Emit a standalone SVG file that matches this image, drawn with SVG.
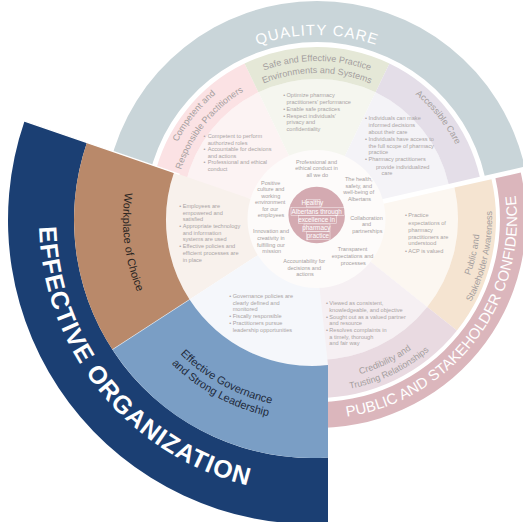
<svg xmlns="http://www.w3.org/2000/svg" xmlns:xlink="http://www.w3.org/1999/xlink" width="523" height="522" viewBox="0 0 523 522">
<style>
  .lbl{font-family:"Liberation Sans",Arial,sans-serif;font-size:9px;fill:#a49e9e}
  .dark{font-family:"Liberation Sans",Arial,sans-serif;font-size:11px;fill:#2a2522}
  .navy{font-family:"Liberation Sans",Arial,sans-serif;font-size:11px;fill:#1f2a3b}
  .blt{font-family:"Liberation Sans",Arial,sans-serif;font-size:5.6px;fill:#aaa4a4}
  .val{font-family:"Liberation Sans",Arial,sans-serif;font-size:5.5px;fill:#a6a0a0;text-anchor:middle}
  .ctr{font-family:"Liberation Sans",Arial,sans-serif;font-size:6.4px;fill:#ffffff;text-anchor:middle}
  .band{font-family:"Liberation Sans",Arial,sans-serif;fill:#ffffff}
</style>
<defs>
  <!-- one seventh of the wheel, centred on the +x axis -->
  <path id="q-in" d="M0,0 L121.63,-58.57 A135,135 0 0 1 121.63,58.57 Z"/>
  <path id="q-lb" d="M121.63,-58.57 L150.46,-72.46 A167,167 0 0 1 150.46,72.46 L121.63,58.57 A135,135 0 0 0 121.63,-58.57 Z"/>
  <path id="p-in" d="M0,0 L127.04,-61.18 A141,141 0 0 1 127.04,61.18 Z"/>
  <path id="p-lb" d="M127.04,-61.18 L161.27,-77.67 A179,179 0 0 1 161.27,77.67 L127.04,61.18 A141,141 0 0 0 127.04,-61.18 Z"/>
  <!-- text baselines, each just long enough for its label -->
  <path id="t-qc" d="M244.19,50.47 A179,179 0 0 1 389.81,50.47"/>
  <path id="t-eo" d="M39.51,203.33 A273,273 0 0 0 271.65,490.0"/>
  <path id="t-psc" d="M319.44,418.99 A200,200 0 0 0 510.45,168.25"/>
  <path id="t-safe1" d="M254.77,74.23 A153,153 0 0 1 379.23,74.23"/>
  <path id="t-safe2" d="M255.19,87.27 A141,141 0 0 1 378.81,87.27"/>
  <path id="t-comp1" d="M173.10,151.22 A157,157 0 0 1 223.80,87.66"/>
  <path id="t-comp2" d="M179.94,173.22 A143,143 0 0 1 246.72,89.46"/>
  <path id="t-acc" d="M406.86,87.71 A155,155 0 0 1 460.13,154.51"/>
  <path id="t-aw1" d="M464.90,287.53 A163,163 0 0 0 479.98,221.45"/>
  <path id="t-aw2" d="M464.0,313.96 A175,175 0 0 0 490.64,197.25"/>
  <path id="t-cr1" d="M349.67,376.65 A161,161 0 0 0 419.86,342.86"/>
  <path id="t-cr2" d="M340.21,390.44 A173,173 0 0 0 436.56,344.04"/>
  <path id="t-work" d="M127.84,177.48 A189,189 0 0 0 143.60,305.80"/>
  <path id="t-gov1" d="M171.20,344.57 A188,188 0 0 0 284.21,405.94"/>
  <path id="t-gov2" d="M161.46,353.19 A201,201 0 0 0 282.29,418.79"/>
</defs>

<rect width="523" height="522" fill="#ffffff"/>

<!-- Quality care: three segments around the top -->
<g id="quality-care">
  <path d="M149.31,175.73 L109.34,166.60 A213,213 0 0 1 524.66,166.60 L484.69,175.73 A172,172 0 0 0 149.31,175.73 Z" fill="#c9d5d9"/>
  <text class="band" font-size="15" letter-spacing="1"><textPath xlink:href="#t-qc" startOffset="50%" text-anchor="middle">QUALITY CARE</textPath></text>
</g>

<g id="competent">
  <use xlink:href="#q-in" transform="translate(317,214) rotate(218.571)" fill="#fcf3f3"/>
  <use xlink:href="#q-lb" transform="translate(317,214) rotate(218.571)" fill="#fbe2e4"/>
  <text class="lbl"><textPath xlink:href="#t-comp1" startOffset="50%" text-anchor="middle">Competent and</textPath></text>
  <text class="lbl"><textPath xlink:href="#t-comp2" startOffset="50%" text-anchor="middle">Responsible Practitioners</textPath></text>
  <text class="blt">
    <tspan x="203.5" y="138">•</tspan><tspan x="207.7" y="138">Competent to perform</tspan>
    <tspan x="207.7" y="144.5">authorized roles</tspan>
    <tspan x="203.5" y="151.3">•</tspan><tspan x="207.7" y="151.3">Accountable for decisions</tspan>
    <tspan x="207.7" y="157.8">and actions</tspan>
    <tspan x="203.5" y="164.4">•</tspan><tspan x="207.7" y="164.4">Professional and ethical</tspan>
    <tspan x="207.7" y="171">conduct</tspan>
  </text>
</g>

<g id="safe-practice">
  <use xlink:href="#q-in" transform="translate(317,214) rotate(270)" fill="#f5f6ef"/>
  <use xlink:href="#q-lb" transform="translate(317,214) rotate(270)" fill="#e5e8d7"/>
  <text class="lbl"><textPath xlink:href="#t-safe1" startOffset="50%" text-anchor="middle">Safe and Effective Practice</textPath></text>
  <text class="lbl"><textPath xlink:href="#t-safe2" startOffset="50%" text-anchor="middle">Environments and Systems</textPath></text>
  <text class="blt">
    <tspan x="283.3" y="97">•</tspan><tspan x="286.5" y="97">Optimize pharmacy</tspan>
    <tspan x="286.5" y="103.7">practitioners’ performance</tspan>
    <tspan x="283.3" y="111">•</tspan><tspan x="286.5" y="111">Enable safe practices</tspan>
    <tspan x="283.3" y="117.7">•</tspan><tspan x="286.5" y="117.7">Respect individuals’</tspan>
    <tspan x="286.5" y="124.2">privacy and</tspan>
    <tspan x="286.5" y="130.7">confidentiality</tspan>
  </text>
</g>

<g id="accessible-care">
  <use xlink:href="#q-in" transform="translate(317,214) rotate(321.429)" fill="#f4f3f7"/>
  <use xlink:href="#q-lb" transform="translate(317,214) rotate(321.429)" fill="#e4dee8"/>
  <text class="lbl"><textPath xlink:href="#t-acc" startOffset="50%" text-anchor="middle">Accessible Care</textPath></text>
  <text class="blt">
    <tspan x="365" y="120.3">•</tspan><tspan x="368.5" y="120.3">Individuals can make</tspan>
    <tspan x="368.5" y="127">informed decisions</tspan>
    <tspan x="368.5" y="134">about their care</tspan>
    <tspan x="365" y="140.7">•</tspan><tspan x="368.5" y="140.7">Individuals have access to</tspan>
    <tspan x="368.5" y="147.7">the full scope of pharmacy</tspan>
    <tspan x="368.5" y="154.3">practice</tspan>
    <tspan x="365" y="161.3">•</tspan><tspan x="368.5" y="161.3">Pharmacy practitioners</tspan>
    <tspan x="376" y="168.7">provide individualized</tspan>
    <tspan x="381.5" y="175.3">care</tspan>
  </text>
</g>

<!-- Public and stakeholder confidence -->
<g id="public-confidence">
  <path d="M495.41,178.28 L520.76,172.49 A209,209 0 0 1 309.71,427.87 L310.61,401.89 A183,183 0 0 0 495.41,178.28 Z" fill="#dbb6bc"/>
  <text class="band" font-size="15"><textPath xlink:href="#t-psc" startOffset="50%" text-anchor="middle">PUBLIC AND STAKEHOLDER CONFIDENCE</textPath></text>
</g>

<g id="stakeholder-awareness">
  <use xlink:href="#p-in" transform="translate(317,219) rotate(12.857)" fill="#fcf7f1"/>
  <use xlink:href="#p-lb" transform="translate(317,219) rotate(12.857)" fill="#f5e4d1"/>
  <text class="lbl"><textPath xlink:href="#t-aw1" startOffset="50%" text-anchor="middle">Public and</textPath></text>
  <text class="lbl"><textPath xlink:href="#t-aw2" startOffset="50%" text-anchor="middle">Stakeholder Awareness</textPath></text>
  <text class="blt">
    <tspan x="405" y="217">•</tspan><tspan x="408.3" y="217">Practice</tspan>
    <tspan x="408.3" y="224.5">expectations of</tspan>
    <tspan x="408.3" y="231.8">pharmacy</tspan>
    <tspan x="408.3" y="238.6">practitioners are</tspan>
    <tspan x="408.3" y="245.4">understood</tspan>
    <tspan x="405" y="252.6">•</tspan><tspan x="408.3" y="252.6">ACP is valued</tspan>
  </text>
</g>

<g id="credibility">
  <use xlink:href="#p-in" transform="translate(317,219) rotate(64.286)" fill="#f6f0f3"/>
  <use xlink:href="#p-lb" transform="translate(317,219) rotate(64.286)" fill="#e9dae1"/>
  <text class="lbl"><textPath xlink:href="#t-cr1" startOffset="50%" text-anchor="middle">Credibility and</textPath></text>
  <text class="lbl"><textPath xlink:href="#t-cr2" startOffset="50%" text-anchor="middle">Trusting Relationships</textPath></text>
  <text class="blt">
    <tspan x="326" y="305.3">•</tspan><tspan x="329.3" y="305.3">Viewed as consistent,</tspan>
    <tspan x="329.3" y="312.3">knowledgeable, and objective</tspan>
    <tspan x="326" y="319.2">•</tspan><tspan x="329.3" y="319.2">Sought out as a valued partner</tspan>
    <tspan x="329.3" y="325.4">and resource</tspan>
    <tspan x="326" y="332.2">•</tspan><tspan x="329.3" y="332.2">Resolves complaints in</tspan>
    <tspan x="329.3" y="338.8">a timely, thorough</tspan>
    <tspan x="329.3" y="345.4">and fair way</tspan>
  </text>
</g>

<!-- Effective organization: enlarged sector on the lower left -->
<g id="effective-organization">
  <path d="M86.97,142.51 L24.56,121.03 A304,304 0 0 0 328,523.58 L328,457.46 A238,238 0 0 1 86.97,142.51 Z" fill="#1b3f73"/>
  <text class="band" font-size="25" font-weight="bold" letter-spacing="1"><textPath xlink:href="#t-eo" startOffset="50%" text-anchor="middle">EFFECTIVE ORGANIZATION</textPath></text>
</g>

<g id="workplace">
  <path d="M312,220 L173.95,172.47 A146,146 0 0 0 189.55,299.52 Z" fill="#f8f1ec"/>
  <path d="M173.95,172.47 L86.97,142.51 A238,238 0 0 0 112.40,349.62 L189.55,299.52 A146,146 0 0 1 173.95,172.47 Z" fill="#b9896a"/>
  <text class="dark"><textPath xlink:href="#t-work" startOffset="50%" text-anchor="middle">Workplace of Choice</textPath></text>
  <text class="blt">
    <tspan x="179.3" y="207.7">•</tspan><tspan x="182.7" y="207.7">Employees are</tspan>
    <tspan x="182.7" y="214.7">empowered and</tspan>
    <tspan x="182.7" y="221.3">satisfied</tspan>
    <tspan x="179.3" y="227.8">•</tspan><tspan x="182.7" y="227.8">Appropriate technology</tspan>
    <tspan x="182.7" y="234.7">and information</tspan>
    <tspan x="182.7" y="241.3">systems are used</tspan>
    <tspan x="179.3" y="248.3">•</tspan><tspan x="182.7" y="248.3">Effective policies and</tspan>
    <tspan x="182.7" y="255.3">efficient processes are</tspan>
    <tspan x="182.7" y="262.3">in place</tspan>
  </text>
</g>

<g id="governance">
  <path d="M312,220 L189.55,299.52 A146,146 0 0 0 328,365.12 Z" fill="#f5f7fb"/>
  <path d="M189.55,299.52 L112.40,349.62 A238,238 0 0 0 328,457.46 L328,365.12 A146,146 0 0 1 189.55,299.52 Z" fill="#7a9ec5"/>
  <text class="navy"><textPath xlink:href="#t-gov1" startOffset="50%" text-anchor="middle">Effective Governance</textPath></text>
  <text class="navy"><textPath xlink:href="#t-gov2" startOffset="50%" text-anchor="middle">and Strong Leadership</textPath></text>
  <text class="blt">
    <tspan x="229.3" y="297.7">•</tspan><tspan x="232.7" y="297.7">Governance policies are</tspan>
    <tspan x="232.7" y="304.7">clearly defined and</tspan>
    <tspan x="232.7" y="311.3">monitored</tspan>
    <tspan x="229.3" y="318.3">•</tspan><tspan x="232.7" y="318.3">Fiscally responsible</tspan>
    <tspan x="229.3" y="325.3">•</tspan><tspan x="232.7" y="325.3">Practitioners pursue</tspan>
    <tspan x="232.7" y="332.3">leadership opportunities</tspan>
  </text>
</g>

<!-- separators of the enlarged sector -->
<g id="connectors" stroke="#ffffff" fill="none">
  <line x1="179.63" y1="174.42" x2="18.89" y2="119.07" stroke-width="1.4"/>
  <line x1="189.55" y1="299.52" x2="112.40" y2="349.62" stroke-width="0.7" stroke-opacity="0.7"/>
</g>

<!-- values ring and centre -->
<g id="values">
  <circle cx="316.5" cy="219" r="69" fill="#fdfbfa"/>
  <text class="val">
    <tspan x="317.3" y="163.7">Professional and</tspan>
    <tspan x="317.3" y="170.3">ethical conduct in</tspan>
    <tspan x="317.3" y="176.5">all we do</tspan>
  </text>
  <text class="val">
    <tspan x="359.5" y="181.3">The health,</tspan>
    <tspan x="359.5" y="187.7">safety, and</tspan>
    <tspan x="359.5" y="194.3">well-being of</tspan>
    <tspan x="359.5" y="201">Albertans</tspan>
  </text>
  <text class="val">
    <tspan x="367.3" y="219.7">Collaboration</tspan>
    <tspan x="367.3" y="226">and</tspan>
    <tspan x="367.3" y="233">partnerships</tspan>
  </text>
  <text class="val">
    <tspan x="353.3" y="251.3">Transparent</tspan>
    <tspan x="353.3" y="258">expectations and</tspan>
    <tspan x="353.3" y="264.7">processes</tspan>
  </text>
  <text class="val">
    <tspan x="305" y="262.7">Accountability for</tspan>
    <tspan x="305" y="269.7">decisions and</tspan>
    <tspan x="305" y="276">actions</tspan>
  </text>
  <text class="val">
    <tspan x="271.7" y="233.3">Innovation and</tspan>
    <tspan x="271.7" y="240">creativity in</tspan>
    <tspan x="271.7" y="246.7">fulfilling our</tspan>
    <tspan x="271.7" y="253">mission</tspan>
  </text>
  <text class="val">
    <tspan x="271.5" y="185.3">Positive</tspan>
    <tspan x="271.5" y="191.3">culture and</tspan>
    <tspan x="271.5" y="197.7">working</tspan>
    <tspan x="271" y="204.3">environment</tspan>
    <tspan x="271" y="210.7">for our</tspan>
    <tspan x="271" y="217.3">employees</tspan>
  </text>
</g>

<g id="vision">
  <circle cx="316.7" cy="215" r="28.3" fill="#d4aab1"/>
  <g fill="none" stroke="#ffffff" stroke-width="0.5" stroke-opacity="0.85">
    <rect x="306.7" y="199.3" width="13.3" height="7.6"/>
    <rect x="291" y="207.3" width="53.3" height="8"/>
    <rect x="298.3" y="215.6" width="38.4" height="7.8"/>
    <rect x="304" y="224" width="26" height="7.7"/>
    <rect x="306.7" y="231.8" width="23.3" height="7.6"/>
  </g>
  <text class="ctr">
    <tspan x="313.3" y="205.4">Healthy</tspan>
    <tspan x="317.6" y="213.5">Albertans through</tspan>
    <tspan x="317.5" y="221.8">excellence in</tspan>
    <tspan x="317.2" y="230">pharmacy</tspan>
    <tspan x="318" y="237.8">practice</tspan>
  </text>
</g>
</svg>
